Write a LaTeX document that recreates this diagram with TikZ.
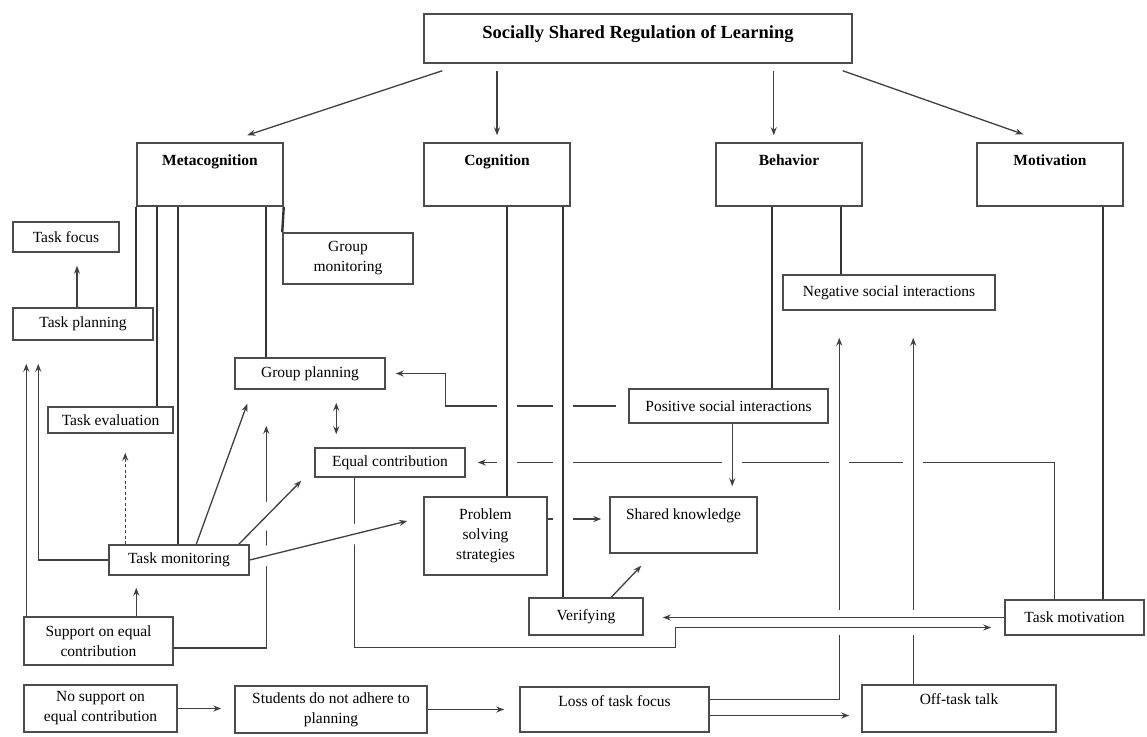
\documentclass[tikz,border=0pt]{standalone}
\usepackage{fontspec}
\setmainfont{Liberation Serif}
\usetikzlibrary{arrows.meta,backgrounds}

\begin{document}
\begin{tikzpicture}[x=1pt,y=-1pt,
  every node/.style={font=\fontsize{15.5}{20}\selectfont},
  box/.style={draw=black!70,line width=1.5pt,align=center,inner sep=2pt},
  cat/.style={box,font=\fontsize{15.5}{20}\selectfont\bfseries,minimum width=146pt,text height=20pt,text depth=39pt},
  arrow/.style={->,>={Stealth[length=8pt,width=6pt]},line width=1.3pt,black!75},
  link/.style={line width=2.4pt,black!80},
  bridge/.style={preaction={draw=white,line width=#1,-}},
  bridge/.default=20pt
]
  \useasboundingbox (0,0) rectangle (1147,736);

  \node[box,minimum width=428pt,text height=22pt,text depth=23pt,font=\fontsize{18.5}{22}\selectfont\bfseries] (ssrl) at (638,38.5) {Socially Shared Regulation of Learning};
  \node[cat] (meta) at (210,174.5) {Metacognition};
  \node[cat] (cog) at (497,174.5) {Cognition};
  \node[cat] (beh) at (789,174.5) {Behavior};
  \node[cat] (mot) at (1050,174.5) {Motivation};

  \node[box,minimum width=106pt,minimum height=30pt] (tfocus) at (66,237) {Task focus};
  \node[box,minimum width=140pt,minimum height=32pt] (tplan) at (83,324) {Task planning};
  \node[box,minimum width=130pt,minimum height=51pt] (gmon) at (348,258.5) {Group\\monitoring};
  \node[box,minimum width=150pt,minimum height=31pt] (gplan) at (310,373.5) {Group planning};
  \node[box,minimum width=125pt,minimum height=26pt] (teval) at (110.5,420) {Task evaluation};
  \node[box,minimum width=150pt,minimum height=29pt] (econ) at (390,462.5) {Equal contribution};
  \node[box,minimum width=140pt,minimum height=30pt] (tmon) at (179,560) {Task monitoring};
  \node[box,minimum width=149pt,minimum height=48pt] (sup) at (98.5,641) {Support on equal\\contribution};

  \node[box,minimum width=123pt,minimum height=78pt] (probl) at (485.5,536) {Problem\\solving\\strategies};
  \node[box,minimum width=147pt,text height=20pt,text depth=32pt] (shared) at (683.5,525) {Shared knowledge};
  \node[box,minimum width=114pt,minimum height=37pt] (verif) at (586,616.5) {Verifying};

  \node[box,minimum width=199pt,minimum height=34pt] (pos) at (728.5,406) {Positive social interactions};
  \node[box,minimum width=212pt,minimum height=35pt] (neg) at (889,292.5) {Negative social interactions};
  \node[box,minimum width=139pt,minimum height=35pt] (tmot) at (1074.5,617.5) {Task motivation};

  \node[box,minimum width=153pt,minimum height=47pt] (nosup) at (100.5,708.5) {No support on\\equal contribution};
  \node[box,minimum width=192pt,minimum height=47pt] (stud) at (331,709.5) {Students do not adhere to\\planning};
  \node[box,minimum width=189pt,text height=17pt,text depth=24pt] (loss) at (614.5,709.5) {Loss of task focus};
  \node[box,minimum width=194pt,text height=17pt,text depth=26pt] (off) at (959,708.5) {Off-task talk};

  \begin{scope}[on background layer]
  \draw[arrow] ([xshift=19pt,yshift=-7pt]ssrl.south west) -- ([xshift=111pt,yshift=7pt]meta.north west);
  \draw[arrow,shorten <=7pt,shorten >=7pt] (ssrl.south -| cog.north) -- (cog.north);
  \draw[arrow,shorten <=7pt,shorten >=7pt] ([xshift=-79pt]ssrl.south east) -- ([xshift=-79pt]ssrl.south east |- beh.north);
  \draw[arrow] ([xshift=-10pt,yshift=-7pt]ssrl.south east) -- ([xshift=47pt,yshift=8pt]mot.north west);

  \foreach \dx/\child in {0/tplan,21/teval,42/tmon,130/gplan}
    \draw[link] ([xshift=\dx pt]meta.south west) -- ([xshift=\dx pt]meta.south west |- \child.north);
  \draw[link] (meta.south east) -- (gmon.north west);

  \draw[arrow,shorten >=13pt] ([xshift=11pt]tfocus.south |- tplan.north) -- ([xshift=11pt]tfocus.south);
  \draw[arrow,shorten >=23pt] (tmon.west) -| ([xshift=26pt]tplan.south west);
  \draw[arrow,shorten >=23pt] ([xshift=3pt]sup.north west) -- ([xshift=14pt]tplan.south west);
  \draw[arrow,shorten >=12pt] ([xshift=28pt]tmon.south west |- sup.north) -- ([xshift=28pt]tmon.south west);
  \draw[arrow,dash pattern=on 3pt off 2.5pt,shorten >=19pt] ([xshift=17pt]tmon.north west) -- ([xshift=17pt]tmon.north west |- teval.south);
  \draw[arrow,shorten >=36pt] ([yshift=-7pt]sup.east) -| ([xshift=32pt]gplan.south west);

  \draw[arrow,shorten <=12pt,shorten >=10pt] (pos.west) -| ([xshift=60pt]gplan.east) -- (gplan.east);
  \draw[arrow,shorten >=12pt] ([xshift=50pt]tmot.north west) |- (econ.east);
  \draw[arrow,shorten >=8pt] ([yshift=17pt]probl.east) -- ([yshift=17pt]probl.east -| shared.west);

  \draw[link,bridge] ([xshift=10pt]cog.south) -- ([xshift=10pt]cog.south |- probl.north);
  \draw[link,bridge] ([xshift=-8pt]cog.south east) -- ([xshift=-8pt]cog.south east |- verif.north);
  \draw[arrow] ([xshift=83pt]verif.north west) -- ([xshift=32pt,yshift=-12pt]shared.south west);

  \draw[link] ([xshift=57pt]beh.south west) -- ([xshift=57pt]beh.south west |- pos.north);
  \draw[link] ([xshift=-22pt]beh.south east) -- ([xshift=-22pt]beh.south east |- neg.north);
  \draw[arrow,bridge,shorten >=10pt] ([xshift=104pt]pos.south west) -- ([xshift=104pt]pos.south west |- shared.north);
  \draw[link] ([xshift=-21pt]mot.south east) -- ([xshift=-21pt]mot.south east |- tmot.north);

  \draw[arrow,shorten >=13pt] (nosup.east) -- (nosup.east -| stud.west);
  \draw[arrow,shorten >=15pt] (stud.east) -- (stud.east -| loss.west);
  \draw[arrow,shorten >=12pt] ([yshift=-6pt]loss.east) -- ([yshift=-6pt]loss.east -| off.west);
  \draw[arrow,bridge,shorten >=27pt] ([yshift=10pt]loss.east) -| ([xshift=57pt]neg.south west);
  \draw[arrow,bridge,shorten >=27pt] ([xshift=52pt]off.north west) -- ([xshift=52pt]off.north west |- neg.south);

  \draw[arrow,bridge=16pt,shorten >=19pt] (tmot.west) -- (tmot.west -| verif.east);
  \draw[arrow,bridge=14pt,shorten >=13pt] ([xshift=40pt]econ.south west) |- ([xshift=32pt,yshift=-12pt]verif.south east) |- ([yshift=-10pt]tmot.west);

  \draw[arrow] ([xshift=88pt]tmon.north west) -- ([xshift=13pt,yshift=-14pt]gplan.south west);
  \draw[arrow,bridge] ([xshift=-11pt]tmon.north east) -- ([xshift=-13pt,yshift=-3pt]econ.south west);
  \draw[arrow,bridge] (tmon.east) -- ([xshift=-16pt,yshift=15pt]probl.west);
  \draw[arrow,<->,shorten <=13pt,shorten >=13pt] ([xshift=102pt]gplan.south west) -- ([xshift=102pt]gplan.south west |- econ.north);
  \end{scope}
\end{tikzpicture}
\end{document}
